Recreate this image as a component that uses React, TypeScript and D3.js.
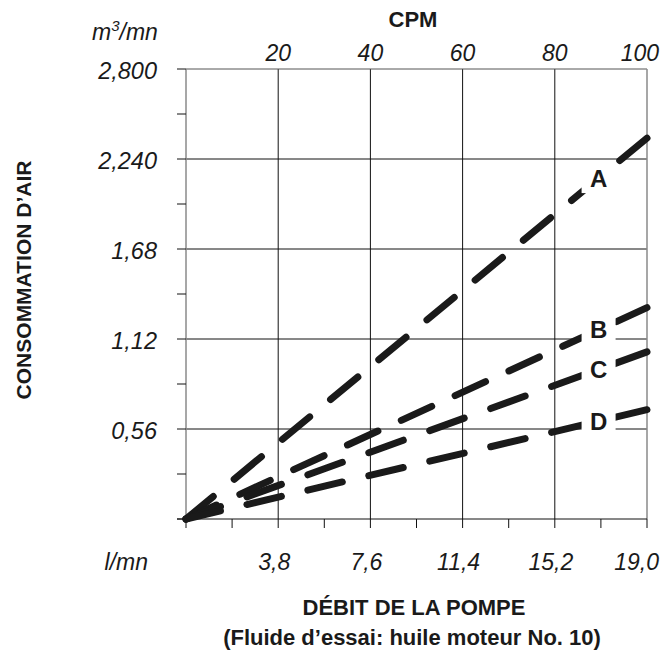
import React from 'react';
import * as d3 from 'd3';

// ---- data ----
const cpmTicks = [20, 40, 60, 80, 100];
const cpmTickLabels = ['20', '40', '60', '80', '100'];
const flowTickLabels = ['3,8', '7,6', '11,4', '15,2', '19,0'];
const minorCpm = [0, 10, 20, 30, 40, 50, 60, 70, 80, 90, 100];
const airTicks = [0.56, 1.12, 1.68, 2.24, 2.8];
const airTickLabels = ['0,56', '1,12', '1,68', '2,240', '2,800'];
const minorAir = [0, 0.28, 0.56, 0.84, 1.12, 1.4, 1.68, 1.96, 2.24, 2.52, 2.8];
const seriesNames = ['A', 'B', 'C', 'D'];
const seriesCpm = [0, 100];
const seriesA = [0, 2.37];
const seriesB = [0, 1.315];
const seriesC = [0, 1.04];
const seriesD = [0, 0.68];
const seriesValues = [seriesA, seriesB, seriesC, seriesD];
const labelCpm = 89.5;

const W = 662;
const H = 657;
const FONT = '"Liberation Sans", Arial, Helvetica, sans-serif';
const DASH = 34.5;
const GAP = 26.5;

export default function App() {
  const x = d3.scaleLinear().domain([0, 100]).range([186, 647]);
  const y = d3.scaleLinear().domain([0, 2.8]).range([519, 69]);
  const line = d3
    .line<[number, number]>()
    .x((d) => x(d[0]))
    .y((d) => y(d[1]));

  const x0 = x(0);
  const x1 = x(100);
  const y0 = y(0);
  const y1 = y(2.8);

  // fit the dash pattern so each line starts and ends with a dash
  const dashFor = (vals: number[]) => {
    const L = Math.hypot(x(seriesCpm[1]) - x(seriesCpm[0]), y(vals[1]) - y(vals[0]));
    const n = Math.max(1, Math.round((L + GAP) / (DASH + GAP)));
    const s = L / (n * DASH + (n - 1) * GAP);
    return `${DASH * s} ${GAP * s}`;
  };

  return (
    <svg
      width={W}
      height={H}
      viewBox={`0 0 ${W} ${H}`}
      style={{ position: 'absolute', left: 0, top: 0, background: '#fff' }}
      fontFamily={FONT}
    >
      <rect x={0} y={0} width={W} height={H} fill="#fff" />
      {/* vertical grid */}
      {cpmTicks.slice(0, -1).map((v) => (
        <line key={'vg' + v} x1={x(v)} x2={x(v)} y1={y1} y2={y0} stroke="#111" strokeWidth={1} />
      ))}
      {/* horizontal grid */}
      {airTicks.slice(0, -1).map((v) => (
        <line key={'hg' + v} x1={x0} x2={x1} y1={y(v)} y2={y(v)} stroke="#111" strokeWidth={1} />
      ))}
      {/* top border */}
      <line x1={x0} x2={x1} y1={y1} y2={y1} stroke="#555" strokeWidth={1} />
      {/* right border */}
      <line x1={x1} x2={x1} y1={y1} y2={y0} stroke="#8a8a8a" strokeWidth={1.5} />
      {/* left axis */}
      <line x1={x0} x2={x0} y1={y1} y2={y0} stroke="#8a8a8a" strokeWidth={1.5} />
      {/* left ticks */}
      {minorAir.map((v) => (
        <line key={'lt' + v} x1={x0 - 9} x2={x0} y1={y(v)} y2={y(v)} stroke="#111" strokeWidth={1} />
      ))}
      {/* bottom axis */}
      <line x1={x0 - 9} x2={x1} y1={y0} y2={y0} stroke="#111" strokeWidth={1} />
      {minorCpm.map((v) => (
        <line key={'bt' + v} x1={x(v)} x2={x(v)} y1={y0} y2={y0 + 9} stroke="#111" strokeWidth={1} />
      ))}

      {/* series */}
      {seriesValues.map((vals, i) => (
        <path
          key={'s' + i}
          d={line(seriesCpm.map((c, j) => [c, vals[j]] as [number, number])) || ''}
          fill="none"
          stroke="#1a1a1a"
          strokeWidth={7}
          strokeLinecap="round"
          strokeDasharray={dashFor(vals)}
        />
      ))}

      {/* series labels */}
      {seriesValues.map((vals, i) => {
        const v = (vals[1] * labelCpm) / 100;
        const cx = x(labelCpm);
        const cy = y(v);
        return (
          <g key={'l' + i}>
            <rect x={cx - 17} y={cy - 15} width={34} height={30} fill="#fff" />
            <text
              x={cx}
              y={cy}
              dy="0.36em"
              textAnchor="middle"
              fontSize={24}
              fontWeight="bold"
              fill="#1a1a1a"
            >
              {seriesNames[i]}
            </text>
          </g>
        );
      })}

      {/* y tick labels */}
      {airTicks.map((v, i) => (
        <text
          key={'yl' + v}
          x={157}
          y={y(v) + 10}
          textAnchor="end"
          fontSize={23.5}
          fontStyle="italic"
          fill="#1a1a1a"
        >
          {airTickLabels[i]}
        </text>
      ))}
      {/* unit m3/mn */}
      <text x={92} y={40} fontSize={23} fontStyle="italic" fill="#1a1a1a">
        m<tspan fontSize={15} dy={-9}>3</tspan>
        <tspan dy={9}>/mn</tspan>
      </text>

      {/* top CPM tick labels */}
      {cpmTicks.map((v, i) => {
        const last = i === cpmTicks.length - 1;
        return (
          <text
            key={'tl' + v}
            x={last ? x(v) + 12 : x(v)}
            y={61}
            textAnchor={last ? 'end' : 'middle'}
            fontSize={23}
            fontStyle="italic"
            fill="#1a1a1a"
          >
            {cpmTickLabels[i]}
          </text>
        );
      })}
      <text x={413} y={27} textAnchor="middle" fontSize={22} fontWeight="bold" fill="#1a1a1a">
        CPM
      </text>

      {/* bottom flow tick labels */}
      <text x={148} y={570} textAnchor="end" fontSize={23} fontStyle="italic" fill="#1a1a1a">
        l/mn
      </text>
      {cpmTicks.map((v, i) => {
        const last = i === cpmTicks.length - 1;
        return (
          <text
            key={'fl' + v}
            x={last ? x(v) + 12 : x(v) - 4}
            y={570}
            textAnchor={last ? 'end' : 'middle'}
            fontSize={23}
            fontStyle="italic"
            fill="#1a1a1a"
          >
            {flowTickLabels[i]}
          </text>
        );
      })}

      {/* axis titles */}
      <text x={414} y={615} textAnchor="middle" fontSize={22} fontWeight="bold" fill="#1a1a1a">
        DÉBIT DE LA POMPE
      </text>
      <text x={412} y={645} textAnchor="middle" fontSize={22} fontWeight="bold" fill="#1a1a1a">
        (Fluide d’essai: huile moteur No. 10)
      </text>
      <text
        transform={`translate(31, 280) rotate(-90)`}
        textAnchor="middle"
        fontSize={21}
        fontWeight="bold"
        fill="#1a1a1a"
      >
        CONSOMMATION D’AIR
      </text>
    </svg>
  );
}
